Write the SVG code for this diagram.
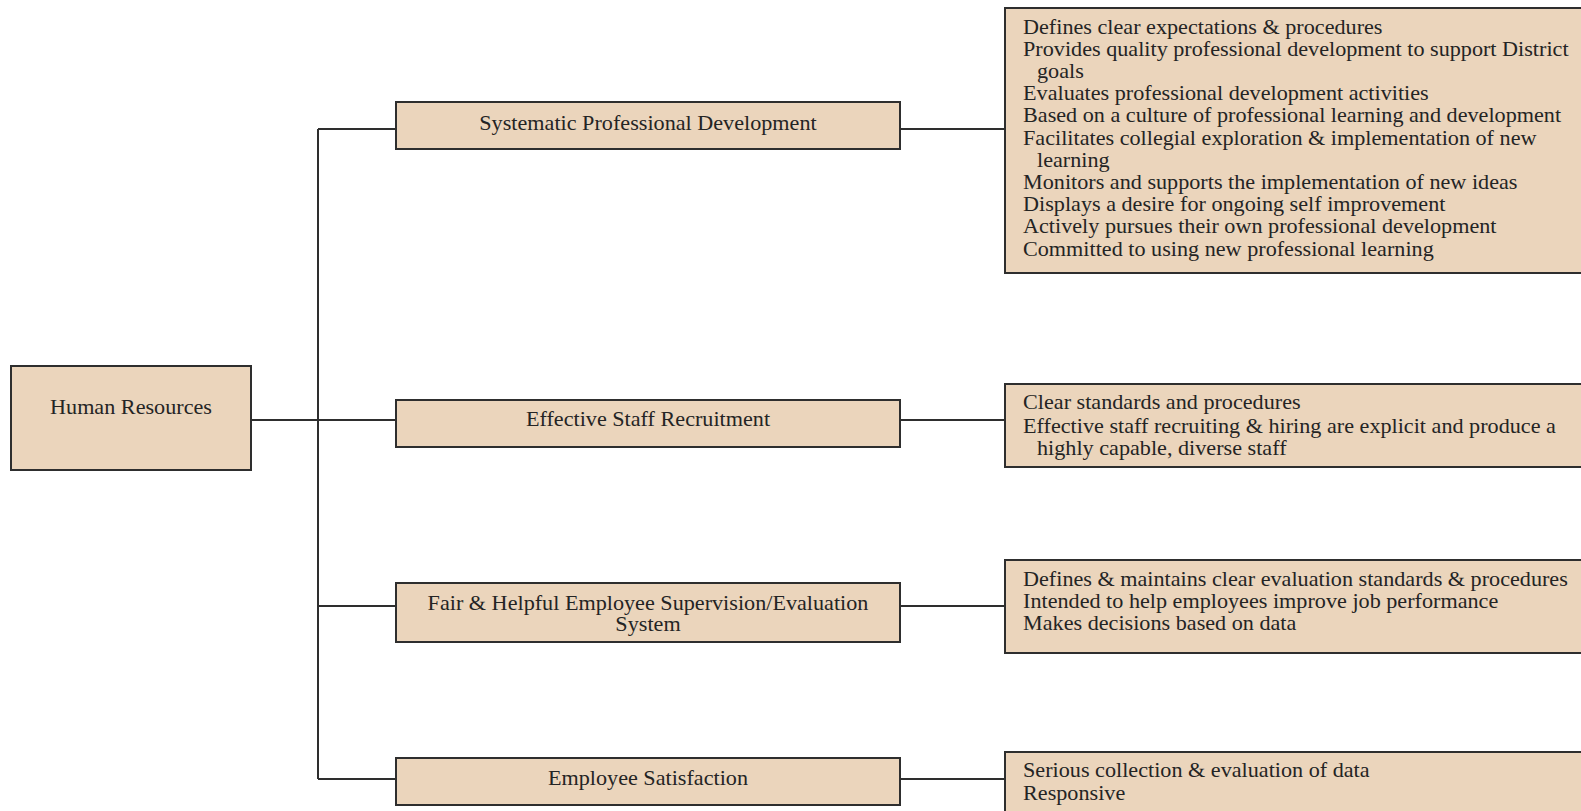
<svg xmlns="http://www.w3.org/2000/svg" width="1581" height="811" viewBox="0 0 1581 811">
<style>
.box{fill:#ebd5bc;stroke:#2e2e2e;stroke-width:2}
.t{font-family:"Liberation Serif","Times New Roman",serif;font-size:20px;fill:#242424}
.c{text-anchor:middle}
.ln{stroke:#2e2e2e;stroke-width:2;fill:none}
</style>
<rect width="1581" height="811" fill="#ffffff"/>
<g id="connectors">
<line class="ln" x1="318" y1="129" x2="318" y2="779"/>
<line class="ln" x1="251" y1="420" x2="396" y2="420"/>
<line class="ln" x1="318" y1="129" x2="396" y2="129"/>
<line class="ln" x1="318" y1="606" x2="396" y2="606"/>
<line class="ln" x1="318" y1="779" x2="396" y2="779"/>
<line class="ln" x1="900" y1="129" x2="1005" y2="129"/>
<line class="ln" x1="900" y1="420" x2="1005" y2="420"/>
<line class="ln" x1="900" y1="606" x2="1005" y2="606"/>
<line class="ln" x1="900" y1="779" x2="1005" y2="779"/>
</g>
<g id="hr">
<rect class="box" x="11" y="366" width="240" height="104"/>
<text class="t c" transform="translate(131,414) scale(1.109,1)">Human Resources</text>
</g>
<g id="spd">
<rect class="box" x="396" y="102" width="504" height="47"/>
<text class="t c" transform="translate(648,130) scale(1.109,1)">Systematic Professional Development</text>
</g>
<g id="esr">
<rect class="box" x="396" y="400" width="504" height="47"/>
<text class="t c" transform="translate(648,426) scale(1.109,1)">Effective Staff Recruitment</text>
</g>
<g id="fhe">
<rect class="box" x="396" y="583" width="504" height="59"/>
<text class="t c" transform="translate(648,610) scale(1.109,1)">Fair &amp; Helpful Employee Supervision/Evaluation</text>
<text class="t c" transform="translate(648,631) scale(1.109,1)">System</text>
</g>
<g id="es">
<rect class="box" x="396" y="758" width="504" height="47"/>
<text class="t c" transform="translate(648,785) scale(1.109,1)">Employee Satisfaction</text>
</g>
<g id="spd-d">
<rect class="box" x="1005" y="8" width="590" height="265"/>
<text class="t" transform="translate(1023,34) scale(1.109,1)">Defines clear expectations &amp; procedures</text>
<text class="t" transform="translate(1023,56) scale(1.109,1)">Provides quality professional development to support District</text>
<text class="t" transform="translate(1037,78) scale(1.109,1)">goals</text>
<text class="t" transform="translate(1023,100) scale(1.109,1)">Evaluates professional development activities</text>
<text class="t" transform="translate(1023,122) scale(1.109,1)">Based on a culture of professional learning and development</text>
<text class="t" transform="translate(1023,145) scale(1.109,1)">Facilitates collegial exploration &amp; implementation of new</text>
<text class="t" transform="translate(1037,167) scale(1.109,1)">learning</text>
<text class="t" transform="translate(1023,189) scale(1.109,1)">Monitors and supports the implementation of new ideas</text>
<text class="t" transform="translate(1023,211) scale(1.109,1)">Displays a desire for ongoing self improvement</text>
<text class="t" transform="translate(1023,233) scale(1.109,1)">Actively pursues their own professional development</text>
<text class="t" transform="translate(1023,256) scale(1.109,1)">Committed to using new professional learning</text>
</g>
<g id="esr-d">
<rect class="box" x="1005" y="384" width="590" height="83"/>
<text class="t" transform="translate(1023,409) scale(1.109,1)">Clear standards and procedures</text>
<text class="t" transform="translate(1023,433) scale(1.109,1)">Effective staff recruiting &amp; hiring are explicit and produce a</text>
<text class="t" transform="translate(1037,455) scale(1.109,1)">highly capable, diverse staff</text>
</g>
<g id="fhe-d">
<rect class="box" x="1005" y="560" width="590" height="93"/>
<text class="t" transform="translate(1023,586) scale(1.109,1)">Defines &amp; maintains clear evaluation standards &amp; procedures</text>
<text class="t" transform="translate(1023,608) scale(1.109,1)">Intended to help employees improve job performance</text>
<text class="t" transform="translate(1023,630) scale(1.109,1)">Makes decisions based on data</text>
</g>
<g id="es-d">
<rect class="box" x="1005" y="752" width="590" height="80"/>
<text class="t" transform="translate(1023,777) scale(1.109,1)">Serious collection &amp; evaluation of data</text>
<text class="t" transform="translate(1023,800) scale(1.109,1)">Responsive</text>
</g>
</svg>
